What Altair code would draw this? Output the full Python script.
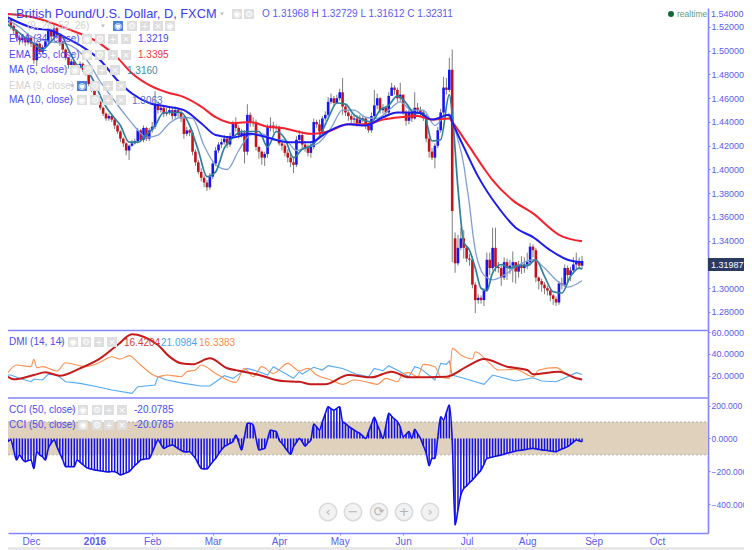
import altair as alt
import pandas as pd

# ---- candles (bar index -8 .. 191) ----
first_bar = -8
opens = [
1.524,1.526,1.521,1.517,1.511,1.509,1.511,1.507,1.511,1.506,
1.492,1.506,1.499,1.503,1.508,1.517,1.512,1.519,1.513,1.507,
1.501,1.494,1.488,1.491,1.483,1.486,1.489,1.484,1.482,1.472,
1.467,1.461,1.457,1.452,1.447,1.443,1.445,1.442,1.437,1.432,
1.426,1.422,1.416,1.420,1.422,1.424,1.433,1.425,1.435,1.426,
1.433,1.436,1.455,1.450,1.452,1.447,1.448,1.450,1.445,1.450,
1.448,1.443,1.430,1.433,1.431,1.415,1.406,1.398,1.393,1.389,
1.385,1.394,1.405,1.416,1.421,1.423,1.426,1.421,1.428,1.439,
1.435,1.429,1.431,1.415,1.446,1.439,1.440,1.419,1.415,1.410,
1.413,1.436,1.437,1.435,1.436,1.422,1.420,1.414,1.410,1.406,
1.404,1.425,1.429,1.421,1.418,1.414,1.419,1.440,1.438,1.432,
1.443,1.446,1.457,1.460,1.456,1.460,1.465,1.453,1.448,1.445,
1.442,1.443,1.439,1.442,1.443,1.437,1.433,1.445,1.454,1.460,
1.450,1.452,1.448,1.462,1.469,1.467,1.460,1.463,1.448,1.441,
1.448,1.443,1.452,1.450,1.448,1.445,1.426,1.415,1.410,1.420,
1.433,1.448,1.469,1.467,1.484,1.342,1.321,1.334,1.342,1.334,
1.325,1.324,1.303,1.290,1.292,1.290,1.298,1.324,1.317,1.334,
1.318,1.317,1.309,1.322,1.317,1.319,1.322,1.314,1.320,1.317,
1.320,1.322,1.335,1.332,1.309,1.306,1.303,1.300,1.298,1.294,
1.291,1.288,1.304,1.303,1.317,1.311,1.315,1.320,1.322,1.319]
closes = [
1.526,1.521,1.517,1.511,1.509,1.511,1.507,1.511,1.506,1.492,
1.506,1.499,1.503,1.508,1.517,1.512,1.519,1.513,1.507,1.501,
1.494,1.488,1.491,1.483,1.486,1.489,1.484,1.482,1.472,1.467,
1.461,1.457,1.452,1.447,1.443,1.445,1.442,1.437,1.432,1.426,
1.422,1.416,1.420,1.422,1.424,1.433,1.425,1.435,1.426,1.433,
1.436,1.455,1.450,1.452,1.447,1.448,1.450,1.445,1.450,1.448,
1.443,1.430,1.433,1.431,1.415,1.406,1.398,1.393,1.389,1.385,
1.394,1.405,1.416,1.421,1.423,1.426,1.421,1.428,1.439,1.435,
1.429,1.431,1.415,1.446,1.439,1.440,1.419,1.415,1.410,1.413,
1.436,1.437,1.435,1.436,1.422,1.420,1.414,1.410,1.406,1.404,
1.425,1.429,1.421,1.418,1.414,1.419,1.440,1.438,1.432,1.443,
1.446,1.457,1.460,1.456,1.460,1.465,1.453,1.448,1.445,1.442,
1.443,1.439,1.442,1.443,1.437,1.433,1.445,1.454,1.460,1.450,
1.452,1.448,1.462,1.469,1.467,1.460,1.463,1.448,1.441,1.448,
1.443,1.452,1.450,1.448,1.445,1.426,1.415,1.410,1.420,1.433,
1.448,1.469,1.467,1.484,1.365,1.321,1.334,1.342,1.334,1.325,
1.324,1.303,1.290,1.292,1.290,1.298,1.324,1.317,1.334,1.318,
1.317,1.309,1.322,1.317,1.319,1.322,1.314,1.320,1.317,1.320,
1.322,1.335,1.332,1.309,1.306,1.303,1.300,1.298,1.294,1.291,
1.288,1.304,1.303,1.317,1.311,1.315,1.320,1.322,1.319,1.323]
highs = [
1.530,1.527,1.522,1.518,1.513,1.514,1.512,1.515,1.513,1.507,
1.508,1.507,1.505,1.510,1.519,1.518,1.522,1.520,1.514,1.508,
1.502,1.495,1.493,1.492,1.488,1.491,1.490,1.485,1.483,1.473,
1.468,1.462,1.458,1.453,1.448,1.447,1.447,1.443,1.438,1.433,
1.427,1.423,1.421,1.425,1.426,1.435,1.434,1.437,1.436,1.435,
1.440,1.466,1.457,1.455,1.453,1.452,1.453,1.452,1.453,1.452,
1.450,1.445,1.436,1.434,1.433,1.417,1.408,1.401,1.395,1.391,
1.397,1.407,1.419,1.423,1.426,1.429,1.427,1.431,1.441,1.444,
1.437,1.434,1.433,1.455,1.448,1.444,1.442,1.420,1.416,1.415,
1.438,1.444,1.440,1.438,1.437,1.424,1.422,1.417,1.413,1.410,
1.428,1.433,1.432,1.424,1.421,1.422,1.443,1.442,1.442,1.445,
1.449,1.461,1.464,1.462,1.463,1.468,1.477,1.455,1.450,1.447,
1.447,1.446,1.446,1.446,1.444,1.438,1.448,1.467,1.464,1.461,
1.455,1.453,1.465,1.473,1.471,1.469,1.473,1.463,1.450,1.451,
1.451,1.465,1.456,1.453,1.450,1.447,1.428,1.418,1.422,1.436,
1.451,1.478,1.477,1.494,1.501,1.347,1.345,1.351,1.349,1.336,
1.329,1.326,1.305,1.295,1.294,1.300,1.330,1.330,1.351,1.351,
1.322,1.319,1.326,1.325,1.324,1.331,1.322,1.323,1.327,1.326,
1.330,1.338,1.337,1.334,1.310,1.308,1.305,1.302,1.299,1.295,
1.293,1.306,1.309,1.320,1.319,1.318,1.326,1.330,1.326,1.32729]
lows = [
1.522,1.518,1.514,1.508,1.505,1.506,1.504,1.505,1.503,1.489,
1.487,1.497,1.497,1.502,1.505,1.509,1.511,1.510,1.504,1.498,
1.492,1.485,1.487,1.481,1.482,1.485,1.482,1.479,1.470,1.465,
1.459,1.455,1.450,1.445,1.441,1.441,1.440,1.434,1.430,1.423,
1.419,1.412,1.408,1.419,1.421,1.422,1.423,1.423,1.424,1.424,
1.431,1.434,1.447,1.448,1.444,1.445,1.446,1.442,1.443,1.444,
1.440,1.426,1.428,1.428,1.412,1.403,1.396,1.390,1.385,1.382,
1.383,1.392,1.403,1.414,1.418,1.421,1.418,1.419,1.426,1.432,
1.426,1.427,1.405,1.412,1.436,1.436,1.416,1.409,1.404,1.403,
1.410,1.432,1.431,1.433,1.420,1.416,1.411,1.406,1.402,1.397,
1.402,1.423,1.417,1.415,1.411,1.410,1.417,1.435,1.428,1.430,
1.441,1.444,1.455,1.453,1.455,1.458,1.446,1.445,1.441,1.439,
1.439,1.436,1.437,1.440,1.434,1.431,1.431,1.443,1.451,1.447,
1.447,1.445,1.446,1.465,1.463,1.457,1.457,1.446,1.437,1.438,
1.440,1.442,1.447,1.445,1.441,1.423,1.410,1.408,1.401,1.418,
1.431,1.446,1.463,1.465,1.322,1.313,1.319,1.332,1.325,1.322,
1.319,1.300,1.279,1.287,1.287,1.285,1.297,1.311,1.315,1.314,
1.313,1.302,1.307,1.307,1.312,1.305,1.304,1.309,1.312,1.313,
1.316,1.319,1.326,1.305,1.299,1.297,1.295,1.294,1.289,1.286,
1.285,1.286,1.299,1.301,1.305,1.306,1.312,1.316,1.316,1.31612]

# ---- moving averages ----
ema55_i = [-8,1,12,24,30,35,41,47,53,59,64,70,76,82,87,97,103,110,116,122,128,134,139,145,146,152,157,160,167,174,183,191]
ema55_v = [1.531,1.528,1.519,1.506,1.494,1.481,1.471,1.465,1.461,1.453,1.444,1.439,1.440,1.436,1.435,1.430,1.432,1.438,1.438,1.442,1.444,1.445,1.442,1.443,1.440,1.419,1.401,1.391,1.374,1.363,1.345,1.3395]
ema34_i = [-8,1,7,12,18,24,30,35,41,47,53,59,64,70,76,82,89,97,103,110,116,122,127,134,139,145,146,150,155,162,168,174,180,186,191]
ema34_v = [1.528,1.519,1.517,1.511,1.503,1.492,1.475,1.464,1.456,1.453,1.450,1.439,1.429,1.427,1.430,1.427,1.423,1.423,1.432,1.438,1.437,1.444,1.448,1.448,1.442,1.446,1.440,1.419,1.394,1.368,1.351,1.343,1.332,1.324,1.3219]
ma5_i = [-8,-5,-2,1,4,7,10,13,16,19,22,25,28,31,34,37,40,43,46,49,52,55,58,61,64,67,70,73,76,79,82,85,88,91,94,97,100,103,106,109,112,115,118,121,124,127,130,133,136,139,142,145,146,148,150,152,154,156,158,160,163,166,169,172,175,178,181,184,187,190,191]
ma5_v = [1.522,1.517,1.511,1.506,1.501,1.508,1.514,1.501,1.488,1.485,1.473,1.457,1.446,1.437,1.423,1.423,1.429,1.437,1.448,1.448,1.448,1.437,1.416,1.394,1.398,1.418,1.427,1.432,1.432,1.432,1.419,1.432,1.426,1.410,1.417,1.420,1.428,1.443,1.456,1.455,1.446,1.442,1.440,1.450,1.454,1.462,1.456,1.447,1.448,1.424,1.425,1.463,1.447,1.384,1.339,1.332,1.317,1.300,1.298,1.313,1.320,1.317,1.319,1.319,1.324,1.310,1.297,1.296,1.310,1.317,1.3160]
ma10_i = [-8,-4,0,4,8,12,16,20,24,28,32,36,40,44,48,52,56,60,64,68,72,76,80,84,88,92,96,100,104,108,112,116,120,124,128,132,136,140,144,146,148,150,151,152,153,154,156,158,160,164,168,174,178,182,186,191]
ma10_v = [1.526,1.520,1.512,1.509,1.507,1.506,1.501,1.490,1.474,1.461,1.448,1.436,1.427,1.429,1.439,1.444,1.443,1.420,1.404,1.400,1.416,1.429,1.430,1.425,1.425,1.416,1.419,1.423,1.435,1.450,1.450,1.444,1.443,1.450,1.457,1.450,1.450,1.437,1.446,1.440,1.425,1.404,1.387,1.370,1.349,1.332,1.315,1.309,1.307,1.311,1.318,1.324,1.317,1.307,1.301,1.3063]

# ---- DMI ----
adx_i = [-8,-6,1,5,10,17,24,30,35,39,44,48,52,56,62,68,72,79,87,93,97,102,110,118,125,131,144,151,157,165,172,174,183,189,191]
adx_v = [19.0,16.6,20.6,23.0,19.9,26.7,35.9,48.1,57.9,55.7,48.1,37.4,31.3,30.4,35.9,26.7,24.5,20.6,15.0,14.4,12.0,12.0,20.6,18.4,23.6,18.4,19.0,28.2,35.2,28.2,25.1,21.2,23.6,17.5,16.42]
plus_i = [-8,-7,-4,0,1,4,6,9,12,17,23,28,35,37,43,44,47,53,59,62,67,70,75,79,82,84,91,93,94,98,101,103,108,113,117,119,122,124,128,131,133,135,140,142,144,145,146,150,157,160,168,174,177,182,186,189,191]
plus_v = [20.5,20.5,17.5,14.4,16.9,16.0,21.4,20.5,14.4,12.9,9.8,6.8,3.7,9.8,11.4,19.0,16.0,12.9,10.4,10.4,19.9,17.5,26.6,23.6,20.5,28.2,17.5,23.6,21.4,27.6,25.1,29.1,26.6,21.1,19.0,26.6,24.5,29.1,23.6,19.0,28.2,26.6,16.0,31.2,30.3,33.4,20.5,17.5,12.0,20.5,15.0,18.0,15.0,14.4,19.0,22.7,21.1]
minus_i = [-8,-5,0,1,2,4,9,12,17,19,24,28,31,34,38,44,47,52,54,57,59,64,71,74,77,80,84,89,93,96,99,104,108,112,116,120,123,127,129,131,134,136,140,142,145,146,149,153,154,159,162,168,174,176,182,186,189,191]
minus_v = [22.7,29.7,28.2,34.9,27.3,28.2,24.2,31.8,29.1,28.2,32.2,37.3,35.2,38.3,29.7,19.0,20.5,19.0,23.6,25.1,29.7,22.0,13.8,26.6,19.0,28.2,22.0,31.2,24.2,26.6,20.5,16.0,12.0,16.0,14.4,12.0,17.5,14.4,22.0,22.7,19.0,30.3,28.2,19.0,17.5,45.0,38.9,35.2,41.9,31.2,25.1,25.7,19.0,25.1,27.3,20.5,17.5,16.34]

# ---- CCI, one value per bar ----
cci = [
-20,-10,-70,-132,-101,-125,-142,-135,-132,-183,
-81,-100,-112,-132,-61,-30,-10,-50,-91,-130,
-172,-172,-173,-172,-132,-145,-160,-175,-183,-188,
-192,-195,-198,-200,-203,-204,-202,-203,-212,-223,
-218,-210,-203,-185,-165,-150,-132,-128,-125,-122,
-85,-45,-10,-35,-61,-52,-45,-40,-50,-62,
-72,-81,-82,-81,-100,-122,-155,-183,-186,-187,
-165,-142,-122,-95,-70,-50,-40,-30,-20,21,
-25,-71,10,92,92,82,0,-71,-66,-61,
-5,51,46,41,-10,-30,-55,-78,-97,-50,
-25,0,-20,-47,-28,-10,88,70,51,100,
150,193,180,173,183,193,102,90,75,62,
51,40,30,15,0,40,85,128,85,42,
0,75,153,135,118,102,70,10,25,41,
0,55,28,0,-45,-91,-166,-122,-122,5,
132,112,158,204,-10,-528,-435,-345,-305,-290,
-270,-254,-233,-213,-193,-158,-122,-118,-113,-109,
-105,-101,-96,-91,-86,-82,-77,-74,-72,-69,
-66,-63,-61,-64,-67,-70,-72,-74,-77,-79,
-81,-73,-65,-58,-50,-37,-23,-10,-15,-20]

# ---- axes ----
month_pos = [0,22,42,63,86,107,129,151,172,195,217]
month_txt = ["Dec","2016","Feb","Mar","Apr","May","Jun","Jul","Aug","Sep","Oct"]
price_ticks = [1.52,1.50,1.48,1.46,1.44,1.42,1.40,1.38,1.36,1.34,1.32,1.30,1.28]
dmi_ticks = [60,40,20]
cci_ticks = [200,0,-200,-400]
cci_bands = [100,-100]

BLUE, RED = "#1414f5", "#c2121c"
AX = "#8484ff"
LBL = "#5a5af2"
FONT = "Liberation Sans"
W, H = 700, 525
bars = list(range(first_bar, first_bar + len(closes)))
candles = pd.DataFrame({"i": bars, "o": opens, "c": closes, "h": highs, "l": lows})
candles["dir"] = ["up" if c >= o else "down" for o, c in zip(opens, closes)]
cci_df = pd.DataFrame({"i": bars, "v": cci})

label_map = "{" + ",".join(f"{p}:'{t}'" for p, t in zip(month_pos, month_txt)) + "}"
X = alt.X("i:Q", title=None,
          scale=alt.Scale(domain=[-7.97, 234.66], nice=False, zero=False),
          axis=alt.Axis(values=month_pos, labelExpr=f"{label_map}[datum.value]", grid=False,
                        labelFontWeight={"condition": {"test": "datum.value==22", "value": "bold"}, "value": "normal"},
                        labelFontSize=10, labelOverlap=False, labelBound=False, labelFlush=False))

def scale_y(domain, rng):
    return alt.Scale(domain=domain, range=rng, zero=False, nice=False)

S_MAIN = scale_y([1.2644, 1.536], [322.5, 0])
S_DMI = scale_y([-0.55, 61.4], [390, 322.5])
S_CCI = scale_y([-576.8, 246.3], [525, 390])

def none_y(field, s):
    return alt.Y(field, scale=s, axis=None, title=None)

def line_layer(xs, ys, color, width, s):
    df = pd.DataFrame({"i": xs, "v": ys})
    return alt.Chart(df).mark_line(color=color, strokeWidth=width, interpolate="monotone").encode(x=X, y=none_y("v:Q", s))

EMPTY = alt.Data(values=[{}])

def txt(s, px, py, color, size=10, align="left", font=FONT, weight="normal"):
    return alt.Chart(EMPTY).mark_text(text=s, align=align, baseline="middle", fontSize=size, color=color,
                                      font=font, fontWeight=weight).encode(x=alt.value(px - 8), y=alt.value(py - 8))

def tri(px, py):
    return alt.Chart(EMPTY).mark_point(shape="triangle-down", filled=True, size=14, color="#b8b8b8", opacity=1).encode(
        x=alt.value(px - 8), y=alt.value(py - 8))

def icon(px, py, glyph, fill="#dedede"):
    sq = alt.Chart(EMPTY).mark_square(size=100, color=fill, opacity=1).encode(x=alt.value(px - 8), y=alt.value(py - 8))
    g = txt(glyph, px, py, "#ffffff", size=9, align="center", font="DejaVu Sans")
    return [sq, g]

GLYPHS = ["\u25c9", "\u2699", "+", "\u00d7"]

def icon_row(xs, py, first_fill="#dedede"):
    out = []
    for n, px in enumerate(xs):
        out += icon(px, py, GLYPHS[n % 4], first_fill if n == 0 else "#dedede")
    return out

# ---- panels ----
layers = []

# CCI band
layers.append(alt.Chart(EMPTY).mark_rect(color="#dfd1bb").encode(
    x=alt.value(0), x2=alt.value(W), y=alt.YDatum(cci_bands[0], scale=S_CCI, axis=None, title=None),
    y2=alt.Y2Datum(cci_bands[1])))
for b in cci_bands:
    layers.append(alt.Chart(EMPTY).mark_rule(color="#b0b0b0", strokeDash=[2, 2], strokeWidth=1).encode(
        x=alt.value(0), x2=alt.value(W), y=alt.YDatum(b, scale=S_CCI, axis=None, title=None)))

AXKW = dict(orient="right", grid=False, labelOverlap=False, labelBound=False, labelFlush=False)

# main candles
layers.append(alt.Chart(candles).mark_rule(color="#7d7d7d", strokeWidth=1).encode(
    x=X, y=alt.Y("h:Q", scale=S_MAIN, title=None, axis=alt.Axis(values=price_ticks, format=".5f", **AXKW)),
    y2="l:Q"))
layers.append(alt.Chart(candles).mark_rule(strokeWidth=2.6).encode(
    x=X, y=none_y("o:Q", S_MAIN), y2="c:Q",
    color=alt.Color("dir:N", legend=None, scale=alt.Scale(domain=["up", "down"], range=[BLUE, RED]))))
layers.append(line_layer(ma10_i, ma10_v, "#7f9ed2", 1.3, S_MAIN))
layers.append(line_layer(ma5_i, ma5_v, "#2f7f9c", 1.7, S_MAIN))
layers.append(line_layer(ema55_i, ema55_v, "#f5222d", 2, S_MAIN))
layers.append(line_layer(ema34_i, ema34_v, "#1c1cf0", 2, S_MAIN))

# DMI
layers.append(alt.Chart(pd.DataFrame({"i": plus_i, "v": plus_v})).mark_line(color="#55aaf5", strokeWidth=1.1).encode(
    x=X, y=alt.Y("v:Q", scale=S_DMI, title=None, axis=alt.Axis(values=dmi_ticks, format=".4f", **AXKW))))
layers.append(line_layer(minus_i, minus_v, "#ff9050", 1.1, S_DMI))
layers.append(line_layer(adx_i, adx_v, "#c41a1a", 2, S_DMI))

# CCI
layers.append(alt.Chart(cci_df).mark_rule(color="#1010e8", strokeWidth=1.5).encode(
    x=X, y=alt.Y("v:Q", scale=S_CCI, title=None,
                 axis=alt.Axis(values=cci_ticks, labelFontSize=8.5,
                               labelExpr="datum.value==0 ? '0.0000' : format(datum.value,'.3f')", **AXKW)),
    y2=alt.Y2Datum(0)))
layers.append(alt.Chart(cci_df).mark_line(color="#1010e8", strokeWidth=1.6, interpolate="monotone").encode(
    x=X, y=none_y("v:Q", S_CCI)))

# panel separators
layers.append(alt.Chart(EMPTY).mark_rule(color=AX, strokeWidth=1.6).encode(
    x=alt.value(0), x2=alt.value(W), y=alt.YDatum(1.2644, scale=S_MAIN, axis=None, title=None)))
layers.append(alt.Chart(EMPTY).mark_rule(color=AX, strokeWidth=1.6).encode(
    x=alt.value(0), x2=alt.value(W), y=alt.YDatum(-0.55, scale=S_DMI, axis=None, title=None)))

# header
layers += [
    txt("\u2212", 10, 14, "#666666", 12),
    txt("British Pound/U.S. Dollar, D, FXCM", 16, 14, "#3c3cf2", 12.8),
    txt("O 1.31968  H 1.32729  L 1.31612  C 1.32311", 262, 14, "#5a5af2", 10),
    txt("realtime", 677, 14, "#5f9c7c", 8.5),
    alt.Chart(EMPTY).mark_circle(size=36, color="#14663a", opacity=1).encode(x=alt.value(671 - 8), y=alt.value(14 - 8)),
    txt("1.54000", 711, 14, LBL, 9),
]
layers += [tri(222, 14)]
layers += icon_row([237, 249], 14)

# indicator rows
layers += [txt("(9, 26, 52, 26)", 27, 26, "#d2d2d2", 10), tri(103, 26)]
layers += icon_row([118, 132, 145, 158, 170], 26, "#4a80d8")
layers += [txt("EMA (34, close)", 9, 39, "#4a4af2", 10), tri(75, 39), txt("1.3219", 138, 39, "#4a4af2", 10)]
layers += icon_row([87, 100, 113, 126], 39)
layers += [txt("EMA (55, close)", 9, 55, "#4a4af2", 10), tri(75, 55), txt("1.3395", 138, 55, "#f5323c", 10)]
layers += icon_row([87, 100, 113, 126], 55)
layers += [txt("MA (5, close)", 9, 70, "#4a4af2", 10), tri(66, 70), txt("1.3160", 127, 71, "#3f8aa6", 10)]
layers += icon_row([75, 88, 102, 115], 70)
layers += [txt("EMA (9, close)", 9, 86, "#d2d2d2", 10), tri(72, 86)]
layers += icon_row([82, 95, 108, 121], 86, "#4a80d8")
layers += [txt("MA (10, close)", 9, 100, "#4a4af2", 10), tri(72, 100), txt("1.3063", 132, 101, "#5470c4", 10)]
layers += icon_row([82, 95, 108, 121], 100)
layers += [txt("DMI (14, 14)", 9, 342, "#4a4af2", 10), tri(62, 342),
           txt("16.4204", 124, 343, "#d23a3a", 10), txt("21.0984", 161, 343, "#4aa4f0", 10),
           txt("16.3383", 199, 343, "#ff8a48", 10)]
layers += icon_row([73, 86, 99, 112], 342)
for y_row in (410, 425):
    layers += [txt("CCI (50, close)", 9, y_row, "#4a4af2", 10), tri(73, y_row),
               txt("-20.0785", 134, y_row, "#4a4af2", 10)]
    layers += icon_row([83, 97, 109, 122], y_row)

# price tag
layers.append(alt.Chart(EMPTY).mark_rect(color="#2b3a63").encode(
    x=alt.value(708 - 8), x2=alt.value(744 - 8), y=alt.value(258 - 8), y2=alt.value(271 - 8)))
layers.append(txt("1.31987", 711, 264.5, "#ffffff", 9))

# zoom buttons
for px, g in zip([328, 353, 379, 404, 430], ["\u2039", "\u2212", "\u27f3", "+", "\u203a"]):
    layers.append(alt.Chart(EMPTY).mark_circle(size=300, color="#f2f2f2", stroke="#dadada", strokeWidth=1.5, opacity=1).encode(
        x=alt.value(px - 8), y=alt.value(512 - 8)))
    layers.append(txt(g, px, 512, "#b4b4b4", 13, align="center", font="DejaVu Sans"))

# bottom strip
layers.append(alt.Chart(EMPTY).mark_rect(color="#e8e8e8").encode(
    x=alt.value(0), x2=alt.value(736), y=alt.value(547 - 8), y2=alt.value(550 - 8)))

chart = alt.layer(*layers).resolve_scale(y="independent").properties(
    width=W, height=H,
    padding={"left": 0, "top": 0, "right": 36, "bottom": 17},
    autosize=alt.AutoSizeParams(type="none"),
    background="#ffffff",
).configure_view(stroke=None).configure_axis(
    domainColor=AX, domainWidth=1.6, tickColor=AX, tickSize=2, tickWidth=1,
    labelColor=LBL, labelFontSize=9, labelFont=FONT, labelPadding=1,
)

chart.save("out.html", embed_options={"renderer": "svg", "actions": False})
